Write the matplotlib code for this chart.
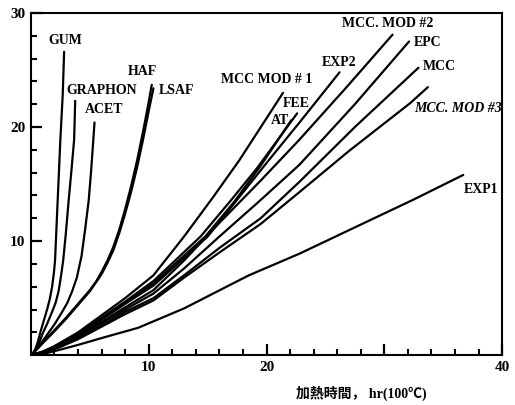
import matplotlib.pyplot as plt

plt.rcParams['font.family'] = ['Liberation Serif', 'Noto Sans CJK JP', 'DejaVu Sans']

# curve data (heating time, value)
gum_x = [0, 0.2, 0.4, 0.6, 0.8, 1.0, 1.2, 1.4, 1.6, 1.8, 1.95, 2.05, 2.27, 2.5, 2.7, 2.82]
gum_y = [0, 0.2, 0.6, 1.2, 2.0, 2.7, 3.4, 4.1, 4.9, 6.0, 7.2, 8.3, 13.5, 18.9, 22.8, 26.6]

graphon_x = [0, 0.3, 0.6, 1.0, 1.4, 1.8, 2.1, 2.35, 2.55, 2.74, 2.95, 3.2, 3.45, 3.67, 3.76]
graphon_y = [0, 0.3, 0.8, 1.9, 2.8, 3.8, 4.6, 5.6, 6.9, 8.3, 10.5, 13.5, 16.3, 18.9, 22.3]

acet_x = [0, 0.4, 0.9, 1.45, 2.0, 2.6, 3.1, 3.5, 3.9, 4.3, 4.6, 4.9, 5.1, 5.3, 5.4]
acet_y = [0, 0.4, 1.1, 1.9, 2.7, 3.7, 4.6, 5.6, 6.8, 8.7, 11.0, 13.5, 16.0, 18.9, 20.4]

haf_x = [0, 0.5, 1, 1.5, 2, 3, 4, 5, 5.5, 6, 6.5, 7, 7.5, 8, 8.5, 9, 9.5, 10, 10.26]
haf_y = [0, 0.55, 1.1, 1.65, 2.2, 3.3, 4.5, 5.7, 6.4, 7.3, 8.3, 9.5, 11.0, 12.8, 14.8, 17.0, 19.5, 22.2, 23.7]

lsaf_x = [0, 0.5, 1, 2, 3, 4, 5, 6, 6.5, 7, 7.5, 8, 8.5, 9, 9.5, 10, 10.4]
lsaf_y = [0, 0.5, 1.05, 2.1, 3.2, 4.4, 5.6, 7.1, 8.1, 9.2, 10.7, 12.4, 14.3, 16.4, 18.8, 21.4, 23.4]

mod1_x = [0, 1, 2, 4, 6, 8, 10.4, 13, 15.5, 17.7, 21.4]
mod1_y = [0, 0.3, 0.8, 2.0, 3.5, 5.0, 7.0, 10.4, 13.9, 17.1, 23.0]

fee_x = [0, 1, 2, 4, 6, 8, 10.4, 14.4, 17, 19.2, 22.6]
fee_y = [0, 0.3, 0.75, 1.9, 3.3, 4.7, 6.5, 10.4, 13.6, 16.4, 21.2]

at_x = [0, 1, 2, 4, 6, 8, 10.4, 14.8, 17.3, 19.5, 22.1]
at_y = [0, 0.3, 0.75, 1.85, 3.2, 4.6, 6.3, 10.4, 13.5, 16.6, 20.6]

exp2_x = [0, 1, 2, 4, 6, 8, 10.4, 15.0, 20.2, 22.8, 26.2]
exp2_y = [0, 0.25, 0.7, 1.8, 3.1, 4.5, 6.1, 10.4, 17.1, 20.4, 24.8]

mod2_x = [0, 1, 2, 4, 6, 8, 10.4, 13, 16, 19.5, 22.8, 26.8, 30.7]
mod2_y = [0, 0.25, 0.65, 1.7, 2.9, 4.2, 5.7, 8.3, 11.6, 15.3, 18.9, 23.5, 28.1]

epc_x = [0, 1, 2, 4, 6, 8, 10.4, 13, 16, 19.5, 22.8, 27.5, 32.1]
epc_y = [0, 0.25, 0.6, 1.6, 2.8, 4.0, 5.4, 7.6, 10.4, 13.6, 16.7, 22.0, 27.5]

mcc_x = [0, 1, 2, 4, 6, 8, 10.4, 13, 16, 19.5, 22.8, 27.5, 32.9]
mcc_y = [0, 0.2, 0.55, 1.5, 2.6, 3.8, 5.0, 7.0, 9.4, 12.0, 15.2, 20.0, 25.2]

mod3_x = [0, 1, 2, 4, 6, 8, 10.4, 13, 16, 19.5, 22.8, 27, 32.2, 33.7]
mod3_y = [0, 0.2, 0.5, 1.4, 2.5, 3.6, 4.8, 6.8, 9.0, 11.5, 14.3, 17.9, 22.1, 23.5]

exp1_x = [0, 1, 2, 4, 6, 9.1, 13, 18.5, 22.8, 27.9, 32.4, 36.7]
exp1_y = [0, 0.1, 0.35, 0.9, 1.5, 2.4, 4.1, 7.0, 8.9, 11.4, 13.6, 15.8]

curves = [
    (gum_x, gum_y), (graphon_x, graphon_y), (acet_x, acet_y),
    (haf_x, haf_y), (lsaf_x, lsaf_y), (mod1_x, mod1_y),
    (fee_x, fee_y), (at_x, at_y), (exp2_x, exp2_y),
    (mod2_x, mod2_y), (epc_x, epc_y), (mcc_x, mcc_y),
    (mod3_x, mod3_y), (exp1_x, exp1_y),
]

# curve labels and where they sit
label_text = ['GUM', 'GRAPHON', 'ACET', 'HAF', 'LSAF', 'MCC MOD # 1', 'FEE', 'AT',
              'EXP2', 'MCC. MOD #2', 'EPC', 'MCC', 'MCC. MOD #3', 'EXP1']
label_x = [1.5, 3.0, 4.6, 8.2, 10.85, 16.1, 21.4, 20.4, 24.7, 26.4, 32.5, 33.3, 32.5, 36.75]
label_y = [27.6, 23.2, 21.5, 24.9, 23.2, 24.2, 22.1, 20.6, 25.7, 29.1, 27.4, 25.3, 21.6, 14.5]

fig = plt.figure(figsize=(5.15, 4.05), dpi=100)
ax = fig.add_axes([0.060, 0.123, 0.915, 0.845])

for cx, cy in curves:
    ax.plot(cx, cy, color='black', lw=1.6, solid_capstyle='round', solid_joinstyle='round')

for t, lx, ly in zip(label_text, label_x, label_y):
    style = 'italic' if t == 'MCC. MOD #3' else 'normal'
    ax.text(lx, ly, t, fontsize=10, fontweight='bold', style=style,
            ha='left', va='center')

ax.set_xlim(0, 40)
ax.set_ylim(0, 30)

# ticks pointing inward
ax.set_xticks([10, 20, 30, 40])
ax.set_xticks([2, 4, 6, 8, 12, 14, 16, 18, 22, 24, 26, 28, 32, 34, 36, 38], minor=True)
ax.set_yticks([10, 20, 30])
ax.set_yticks([2, 4, 6, 8, 12, 14, 16, 18, 22, 24, 26, 28], minor=True)
ax.tick_params(axis='both', which='major', direction='in', length=8, width=1.6,
               color='black', labelsize=11, pad=4, top=False, right=False)
ax.tick_params(axis='both', which='minor', direction='in', length=4.5, width=1.5,
               color='black', top=False, right=False)
ax.set_xticklabels(['10', '20', '', '40'], fontweight='bold')
ax.set_yticklabels(['10', '20', '30'], fontweight='bold')

for side in ax.spines:
    ax.spines[side].set_linewidth(1.5)

fig.text(361 / 515, 1 - 393 / 405, '加熱時間， hr(100℃)', ha='center', va='center',
         fontsize=10, fontweight='bold')

fig.savefig('out.png', dpi=100)
